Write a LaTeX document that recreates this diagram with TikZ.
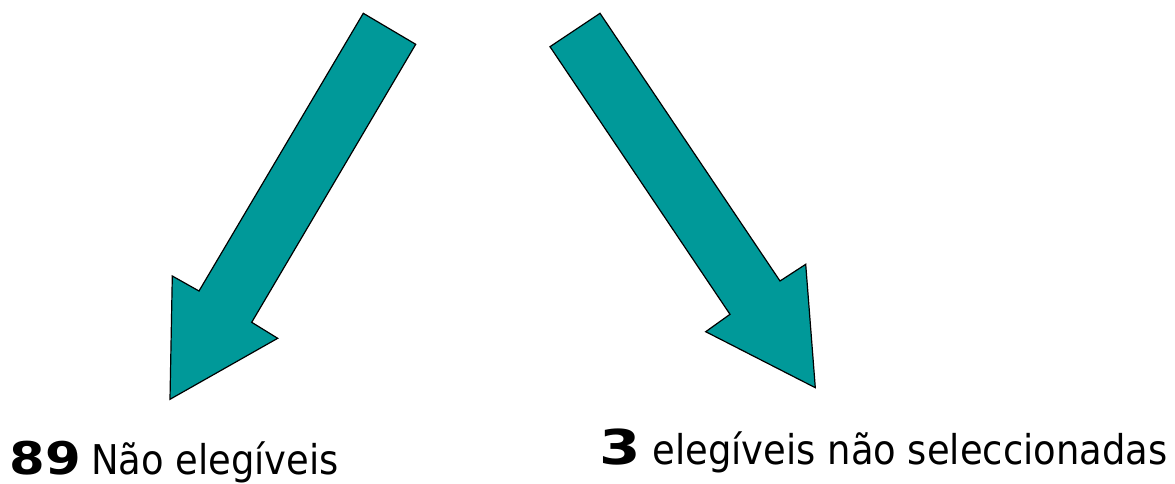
\documentclass[tikz,border=0pt]{standalone}
\usepackage{fontspec}
\setmainfont{DejaVu Sans}
\newfontfamily\condfont{DejaVu Sans Condensed}
\definecolor{teal}{HTML}{009999}
\tikzset{
  blockarrow/.style={fill=teal, draw=black, line width=1.2pt, line join=miter},
  lbl/.style={anchor=base west, inner sep=0pt, text=black}
}
\newcommand{\numtxt}[3]{\scalebox{#1}[1]{\fontsize{#2}{#2}\selectfont\bfseries #3}}
\newcommand{\regtxt}[1]{{\fontsize{41}{41}\selectfont\condfont #1}}
\begin{document}
\begin{tikzpicture}[x=1pt,y=-1pt]
\useasboundingbox (0,0) rectangle (1175,484);
% left arrow
\draw[blockarrow] (363.3,13.3) -- (415.7,44.3) -- (251.7,322.3) -- (277.7,338.3)
  -- (170,399.3) -- (172.3,276) -- (199,291) -- cycle;
% right arrow
\draw[blockarrow] (550,46.7) -- (600,13.3) -- (780,281) -- (805.7,264.3)
  -- (815.3,387.7) -- (705.7,331.7) -- (730,314.3) -- cycle;
\node[lbl] (left) at (9.5,474) {\numtxt{1.14}{45}{89}\hspace{10pt}\regtxt{Não elegíveis}};
\node[lbl] (right) at (599,464) {\numtxt{1.24}{48}{3}\hspace{12pt}\regtxt{elegíveis não seleccionadas}};
\end{tikzpicture}
\end{document}
